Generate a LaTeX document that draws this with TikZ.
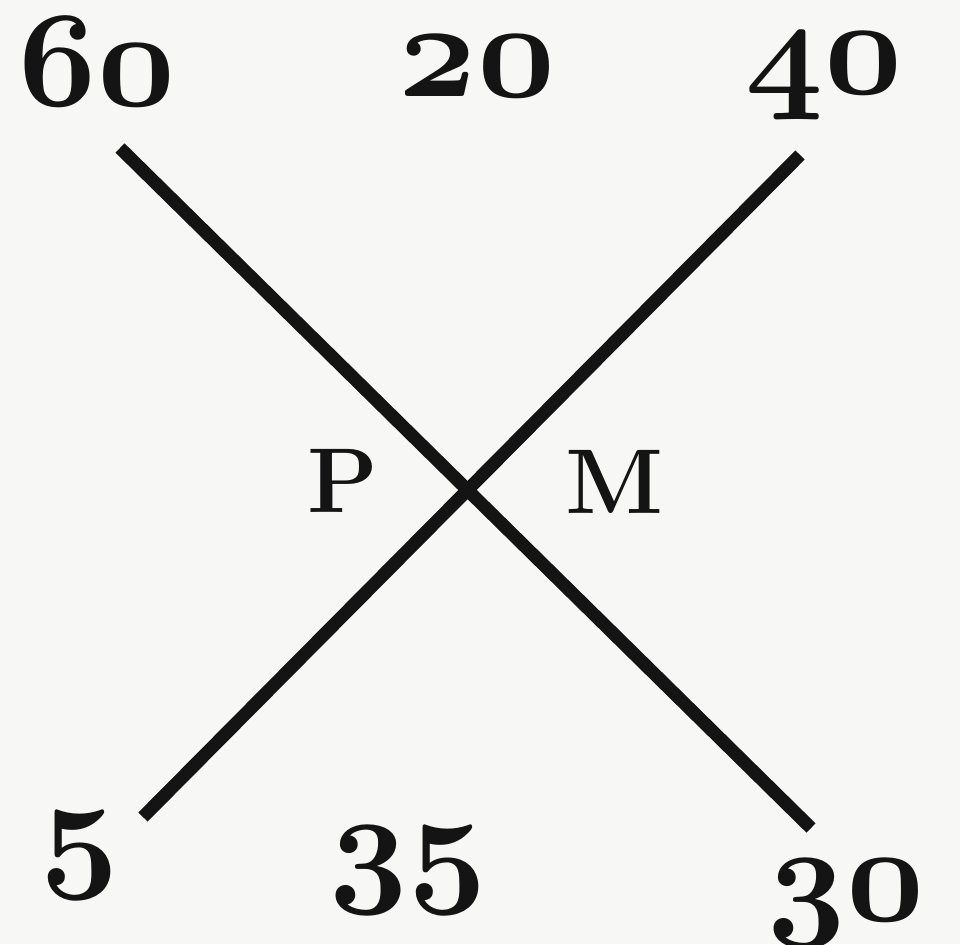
\RequirePackage{fix-cm}
\documentclass[tikz,border=0pt]{standalone}
\usepackage{tikz}
\usetikzlibrary{positioning, calc}
\definecolor{paper}{RGB}{247, 247, 245}
\definecolor{ink}{RGB}{20, 20, 20}
\newcommand{\oldnum}[1]{{\boldmath$\mathnormal{#1}$}}
\tikzset{
    crossline/.style={ink, line width=13pt, line cap=butt},
    numlabel/.style={ink, inner sep=0pt, anchor=base, font=\fontsize{136}{140}\selectfont},
    letterlabel/.style={ink, inner sep=0pt, anchor=base, font=\fontsize{92}{100}\bfseries}
}

\begin{document}
\begin{tikzpicture}[x=1pt, y=-1pt]
        \fill[paper] (0, 0) rectangle (960, 944);
        \useasboundingbox (0, 0) rectangle (960, 944);
        % ends of the two lines
        \coordinate (topleft) at (120, 148);
        \coordinate (botright) at (811, 828);
        \coordinate (topright) at (800, 155);
        \coordinate (botleft) at (143, 817);
        \draw[crossline] (topleft) -- (botright);
        \draw[crossline] (topright) -- (botleft);
        % numbers
        \node[numlabel] (sixty) at (97, 106) {\oldnum{60}};
        \node[numlabel] (twenty) at (477, 97) {\oldnum{20}};
        \node[numlabel] (forty) at (824, 94) {\oldnum{40}};
        \node[numlabel] (five) at (80, 872) {\oldnum{5}};
        \node[numlabel] (thirtyfive) at (408, 887) {\oldnum{35}};
        \node[numlabel] (thirty) at (846, 920) {\oldnum{30}};
        % letters
        \node[letterlabel] (pee) at (343, 512) {P};
        \node[letterlabel] (em) at (615, 513) {M};
    \end{tikzpicture}
\end{document}
